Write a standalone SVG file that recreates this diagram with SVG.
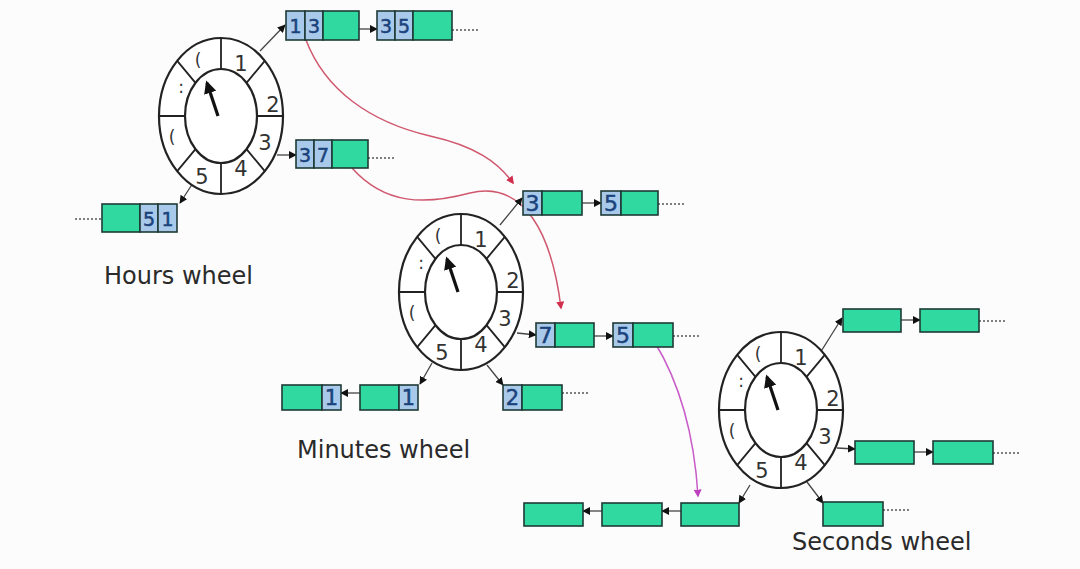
<svg xmlns="http://www.w3.org/2000/svg" xmlns:xlink="http://www.w3.org/1999/xlink" width="1080" height="569" viewBox="0 0 1080 569">
<style>
.ring{fill:#ffffff;stroke:#222;stroke-width:2.2}
.spoke{stroke:#222;stroke-width:1.8}
.wl{font-family:"DejaVu Sans",Verdana,sans-serif;font-size:21px;fill:#333;text-anchor:middle;dominant-baseline:central}
.wp{font-family:"DejaVu Sans",Verdana,sans-serif;font-size:17px;fill:#333;text-anchor:middle;dominant-baseline:central}
.g{fill:#2fd9a0;stroke:#1e3a36;stroke-width:1.6}
.b{fill:#a9c9ea;stroke:#1e3a36;stroke-width:1.6}
.n{font-family:"DejaVu Sans",Verdana,sans-serif;fill:#1a437c;text-anchor:middle;dominant-baseline:central;stroke:#1a437c;stroke-width:0.5}
.c{fill:none;stroke:#444;stroke-width:1.3;marker-end:url(#ah)}
.d{fill:none;stroke:#555;stroke-width:1.6;stroke-dasharray:2 2}
.title{font-family:"DejaVu Sans",Verdana,sans-serif;font-size:24px;fill:#2a2a2a}
.red{fill:none;stroke:#d0586e;stroke-width:1.5;marker-end:url(#rh)}
.mag{fill:none;stroke:#c85cc8;stroke-width:1.5;marker-end:url(#mh)}
</style>
<defs>
<marker id="ah" viewBox="0 0 10 10" refX="9" refY="5" markerWidth="8" markerHeight="8" markerUnits="userSpaceOnUse" orient="auto"><path d="M0,0 L10,5 L0,10 z" fill="#111"/></marker>
<marker id="rh" viewBox="0 0 10 10" refX="8" refY="5" markerWidth="8" markerHeight="8" markerUnits="userSpaceOnUse" orient="auto"><path d="M0,0 L10,5 L0,10 z" fill="#d0304e"/></marker>
<marker id="mh" viewBox="0 0 10 10" refX="8" refY="5" markerWidth="8" markerHeight="8" markerUnits="userSpaceOnUse" orient="auto"><path d="M0,0 L10,5 L0,10 z" fill="#c040c0"/></marker>
<marker id="hh" viewBox="0 0 10 10" refX="8" refY="5" markerWidth="4" markerHeight="4" orient="auto"><path d="M0,0 L10,5 L0,10 z" fill="#111"/></marker>
<g id="wheel">
<ellipse class="ring" cx="0" cy="0" rx="62" ry="78"/>
<ellipse class="ring" cx="0" cy="0" rx="36" ry="47"/>
<path class="spoke" d="M0,-78V-47M0,47V78M-62,0H-36M36,0H62M43.8,-55.2L25.5,-33.2M-43.8,-55.2L-25.5,-33.2M43.8,55.2L25.5,33.2M-43.8,55.2L-25.5,33.2"/>
<text class="wl" x="20" y="-52">1</text>
<text class="wl" x="52" y="-11">2</text>
<text class="wl" x="44" y="27">3</text>
<text class="wl" x="20" y="53">4</text>
<text class="wl" x="-19" y="61">5</text>
<text class="wp" x="-49" y="21">(</text>
<text class="wp" x="-40" y="-29">:</text>
<text class="wp" x="-23" y="-56">(</text>
<line x1="-3" y1="0" x2="-14" y2="-33" stroke="#111" stroke-width="3.2" marker-end="url(#hh)"/>
</g>
</defs>
<rect width="1080" height="569" fill="#fcfcfc"/>

<g id="connectors">
<path class="red" d="M306,40 C325,90 370,122 430,136 C475,146 498,162 513,183"/>
<path class="red" d="M352,168 C385,205 425,205 470,193 C525,180 552,235 561,308"/>
<path class="mag" d="M654,341 C678,380 694,430 698,496"/>
<path class="c" d="M260,51 L285,25"/>
<path class="c" d="M359,29 H377"/>
<path class="d" d="M452,30 H478"/>
<path class="c" d="M277,155 H296"/>
<path class="d" d="M368,158 H394"/>
<path class="c" d="M193,183 L180,203"/>
<path class="d" d="M75,219 H102"/>
<path class="c" d="M500,225 L522,198"/>
<path class="c" d="M582,203 H601"/>
<path class="d" d="M658,204 H686"/>
<path class="c" d="M517,333 L536,335"/>
<path class="c" d="M594,336 H613"/>
<path class="d" d="M673,336 H700"/>
<path class="c" d="M487,365 L503,385"/>
<path class="d" d="M562,393 H590"/>
<path class="c" d="M432,363 L420,384"/>
<path class="c" d="M360,393 H341"/>
<path class="c" d="M820,353 L842,318"/>
<path class="c" d="M901,320 H920"/>
<path class="d" d="M979,321 H1005"/>
<path class="c" d="M837,448 L855,449"/>
<path class="c" d="M914,452 H933"/>
<path class="d" d="M993,453 H1020"/>
<path class="c" d="M807,482 L823,503"/>
<path class="d" d="M883,510 H909"/>
<path class="c" d="M750,485 L739,503"/>
<path class="c" d="M681,511 H662"/>
<path class="c" d="M602,511 H583"/>
</g>

<g id="hours-wheel"><use xlink:href="#wheel" href="#wheel" transform="translate(221,116)"/></g>
<g id="minutes-wheel"><use xlink:href="#wheel" href="#wheel" transform="translate(461,292)"/></g>
<g id="seconds-wheel"><use xlink:href="#wheel" href="#wheel" transform="translate(781,410)"/></g>

<g id="h-13"><rect class="b" x="286" y="11" width="19" height="29"/><rect class="b" x="305" y="11" width="18" height="29"/><rect class="g" x="323" y="11" width="36" height="29"/><text class="n" x="295.5" y="26" font-size="19">1</text><text class="n" x="314" y="26" font-size="19">3</text></g>
<g id="h-35"><rect class="b" x="377" y="11" width="18" height="29"/><rect class="b" x="395" y="11" width="18" height="29"/><rect class="g" x="413" y="11" width="39" height="29"/><text class="n" x="386" y="26" font-size="19">3</text><text class="n" x="404" y="26" font-size="19">5</text></g>
<g id="h-37"><rect class="b" x="296" y="140" width="18" height="28"/><rect class="b" x="314" y="140" width="18" height="28"/><rect class="g" x="332" y="140" width="36" height="28"/><text class="n" x="305" y="154.5" font-size="19">3</text><text class="n" x="323" y="154.5" font-size="19">7</text></g>
<g id="h-51"><rect class="g" x="102" y="204" width="38" height="28"/><rect class="b" x="140" y="204" width="18" height="28"/><rect class="b" x="158" y="204" width="19" height="28"/><text class="n" x="149" y="218.5" font-size="19">5</text><text class="n" x="167.5" y="218.5" font-size="19">1</text></g>
<g id="hours-label"><text class="title" x="104" y="284">Hours wheel</text></g>

<g id="m-3"><rect class="b" x="523" y="191" width="19" height="24"/><rect class="g" x="542" y="191" width="40" height="24"/><text class="n" x="532.5" y="203.5" font-size="22">3</text></g>
<g id="m-5a"><rect class="b" x="601" y="191" width="20" height="24"/><rect class="g" x="621" y="191" width="37" height="24"/><text class="n" x="611" y="203.5" font-size="22">5</text></g>
<g id="m-7"><rect class="b" x="536" y="323" width="19" height="24"/><rect class="g" x="555" y="323" width="39" height="24"/><text class="n" x="545.5" y="335.5" font-size="22">7</text></g>
<g id="m-5b"><rect class="b" x="613" y="323" width="20" height="24"/><rect class="g" x="633" y="323" width="40" height="24"/><text class="n" x="623" y="335.5" font-size="22">5</text></g>
<g id="m-2"><rect class="b" x="503" y="385" width="19" height="25"/><rect class="g" x="522" y="385" width="40" height="25"/><text class="n" x="512.5" y="398" font-size="21">2</text></g>
<g id="m-1a"><rect class="g" x="360" y="385" width="39" height="25"/><rect class="b" x="399" y="385" width="19" height="25"/><text class="n" x="408.5" y="398" font-size="21">1</text></g>
<g id="m-1b"><rect class="g" x="282" y="385" width="40" height="25"/><rect class="b" x="322" y="385" width="19" height="25"/><text class="n" x="331.5" y="398" font-size="21">1</text></g>
<g id="minutes-label"><text class="title" x="297" y="458">Minutes wheel</text></g>

<g id="s-1a"><rect class="g" x="843" y="309" width="58" height="23"/></g>
<g id="s-1b"><rect class="g" x="920" y="309" width="59" height="23"/></g>
<g id="s-3a"><rect class="g" x="855" y="441" width="59" height="23"/></g>
<g id="s-3b"><rect class="g" x="933" y="441" width="60" height="23"/></g>
<g id="s-4"><rect class="g" x="823" y="502" width="60" height="24"/></g>
<g id="s-5a"><rect class="g" x="681" y="503" width="58" height="23"/></g>
<g id="s-5b"><rect class="g" x="602" y="503" width="60" height="23"/></g>
<g id="s-5c"><rect class="g" x="524" y="503" width="59" height="23"/></g>
<g id="seconds-label"><text class="title" x="792" y="550">Seconds wheel</text></g>
</svg>
